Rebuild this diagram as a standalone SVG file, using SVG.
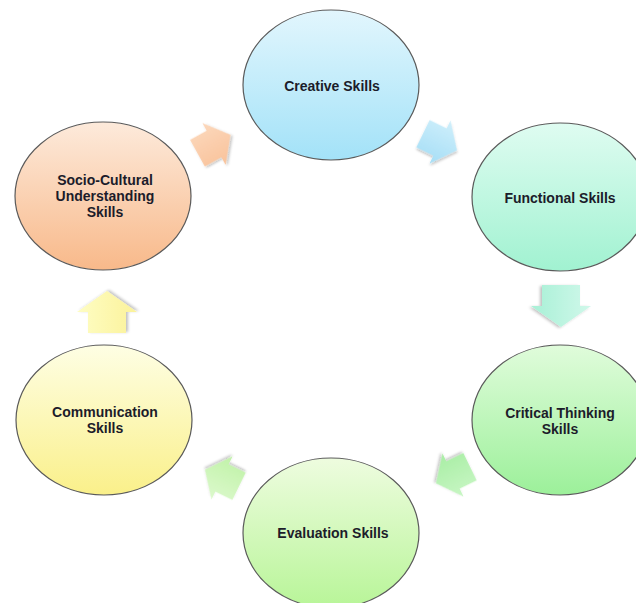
<svg xmlns="http://www.w3.org/2000/svg" width="636" height="603" viewBox="0 0 636 603">
<defs>
<linearGradient id="gCreative" x1="0" y1="0" x2="0" y2="1"><stop offset="0" stop-color="#e2f6fd"/><stop offset="1" stop-color="#a3e2f8"/></linearGradient>
<linearGradient id="gSocio" x1="0" y1="0" x2="0" y2="1"><stop offset="0" stop-color="#fdeadb"/><stop offset="1" stop-color="#f8b98a"/></linearGradient>
<linearGradient id="gFunc" x1="0" y1="0" x2="0" y2="1"><stop offset="0" stop-color="#dffcf1"/><stop offset="1" stop-color="#a1f2d1"/></linearGradient>
<linearGradient id="gCrit" x1="0" y1="0" x2="0" y2="1"><stop offset="0" stop-color="#e0fcdb"/><stop offset="1" stop-color="#9cf09a"/></linearGradient>
<linearGradient id="gComm" x1="0" y1="0" x2="0" y2="1"><stop offset="0" stop-color="#fefee4"/><stop offset="1" stop-color="#faf08a"/></linearGradient>
<linearGradient id="gEval" x1="0" y1="0" x2="0" y2="1"><stop offset="0" stop-color="#eefcdf"/><stop offset="1" stop-color="#b8f598"/></linearGradient>
<linearGradient id="aOrange" x1="0" y1="0" x2="0" y2="1"><stop offset="0" stop-color="#fcd8bc"/><stop offset="1" stop-color="#f9c29a"/></linearGradient>
<linearGradient id="aBlue" x1="0" y1="0" x2="0" y2="1"><stop offset="0" stop-color="#cfeffb"/><stop offset="1" stop-color="#a6def6"/></linearGradient>
<linearGradient id="aTeal" x1="0" y1="0" x2="0" y2="1"><stop offset="0" stop-color="#d0f8ea"/><stop offset="1" stop-color="#a8f0d6"/></linearGradient>
<linearGradient id="aGreen" x1="0" y1="0" x2="0" y2="1"><stop offset="0" stop-color="#c8f6c4"/><stop offset="1" stop-color="#a8eea4"/></linearGradient>
<linearGradient id="aLime" x1="0" y1="0" x2="0" y2="1"><stop offset="0" stop-color="#dcf9cc"/><stop offset="1" stop-color="#c0f2a8"/></linearGradient>
<linearGradient id="aYellow" x1="0" y1="0" x2="0" y2="1"><stop offset="0" stop-color="#fefdc4"/><stop offset="1" stop-color="#fbf29a"/></linearGradient>
<filter id="shadow" x="-30%" y="-30%" width="160%" height="160%">
<feGaussianBlur in="SourceAlpha" stdDeviation="1.5"/>
<feOffset dx="1" dy="2" result="b"/>
<feComponentTransfer><feFuncA type="linear" slope="0.25"/></feComponentTransfer>
<feMerge><feMergeNode/><feMergeNode in="SourceGraphic"/></feMerge>
</filter>
<path id="arrow" d="M-21,-19 L0,-19 L0,-30 L21,0 L0,30 L0,19 L-21,19 Z"/>
</defs>
<style>
.node ellipse{stroke:#5a5a5a;stroke-width:1.2}
.node text{font-family:"Liberation Sans",Arial,sans-serif;font-weight:bold;font-size:14px;fill:#1c1c2a;text-anchor:middle}
#connectors use{filter:url(#shadow)}
</style>
<rect width="636" height="603" fill="#ffffff"/>
<g id="connectors">
<use href="#arrow" fill="url(#aOrange)" transform="translate(214,144) rotate(-29) scale(0.9,0.8)"/>
<use href="#arrow" fill="url(#aBlue)" transform="translate(440,142) rotate(26) scale(0.9,0.8)"/>
<use href="#arrow" fill="url(#aTeal)" transform="translate(561,306) rotate(90)"/>
<use href="#arrow" fill="url(#aGreen)" transform="translate(453,475) rotate(154) scale(0.9,0.8)"/>
<use href="#arrow" fill="url(#aLime)" transform="translate(222,478) rotate(206) scale(0.9,0.8)"/>
<use href="#arrow" fill="url(#aYellow)" transform="translate(107,312) rotate(-90)"/>
</g>
<g id="creative" class="node">
<ellipse cx="331" cy="85" rx="88" ry="75" fill="url(#gCreative)"/>
<text x="332" y="91">Creative Skills</text>
</g>
<g id="functional" class="node">
<ellipse cx="560" cy="197" rx="88" ry="74" fill="url(#gFunc)"/>
<text x="560" y="203">Functional Skills</text>
</g>
<g id="critical" class="node">
<ellipse cx="560" cy="420" rx="88" ry="75" fill="url(#gCrit)"/>
<text x="560" y="418">Critical Thinking</text>
<text x="560" y="434">Skills</text>
</g>
<g id="evaluation" class="node">
<ellipse cx="331" cy="533" rx="88" ry="75" fill="url(#gEval)"/>
<text x="333" y="538">Evaluation Skills</text>
</g>
<g id="communication" class="node">
<ellipse cx="104" cy="420" rx="88" ry="75" fill="url(#gComm)"/>
<text x="105" y="417">Communication</text>
<text x="105" y="433">Skills</text>
</g>
<g id="socio" class="node">
<ellipse cx="103" cy="196" rx="88" ry="74" fill="url(#gSocio)"/>
<text x="105" y="185">Socio-Cultural</text>
<text x="105" y="201">Understanding</text>
<text x="105" y="217">Skills</text>
</g>
</svg>
